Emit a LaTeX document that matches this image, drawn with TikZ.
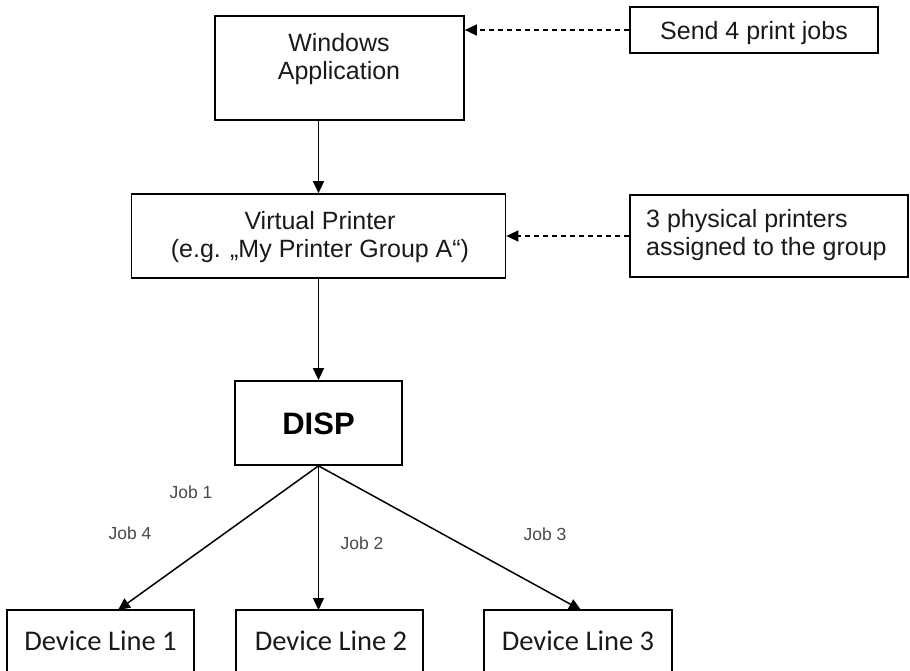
\documentclass[tikz,border=0pt]{standalone}
\usepackage{fontspec}
\setmainfont{Liberation Sans}
\newfontfamily\calibri{Carlito}
\usetikzlibrary{arrows.meta}
\definecolor{txt}{HTML}{1A1A1A}
\definecolor{jobc}{HTML}{4A4A4A}
\tikzset{
  box/.style={draw=black, line width=1.7pt, inner sep=0pt, fill=white},
  lbl/.style={inner sep=0pt, text=txt, font=\fontsize{25}{28.5}\selectfont, align=center},
  devlbl/.style={inner sep=0pt, text=txt, font=\calibri\fontsize{28.5}{32}\selectfont},
  joblbl/.style={inner sep=0pt, text=jobc, font=\fontsize{17.5}{20}\selectfont},
  arr/.style={line width=1.5pt, -{Triangle[length=12pt,width=11pt]}},
  darr/.style={line width=1.5pt, dash pattern=on 5pt off 4pt, -{Triangle[length=12pt,width=11pt]}}
}
\begin{document}
\begin{tikzpicture}[x=1pt,y=-1pt]
\clip (0,0) rectangle (910,670);
\fill[white] (0,0) rectangle (910,670);
% boxes
\node[box, minimum width=249, minimum height=104] (win) at (339.5,68) {};
\node[box, minimum width=248, minimum height=46] (send) at (754,30) {};
\node[box, minimum width=374, minimum height=84] (vp) at (318.5,236) {};
\node[box, minimum width=278, minimum height=82] (phys) at (769,236) {};
\node[box, minimum width=167, minimum height=84] (disp) at (318.5,423) {};
\node[box, minimum width=187, minimum height=80] (dev1) at (100.5,650) {};
\node[box, minimum width=187, minimum height=80] (dev2) at (329.5,650) {};
\node[box, minimum width=188, minimum height=80] (dev3) at (578,650) {};
% labels
\node[lbl] (winl) at (339,59) {Windows\\Application};
\node[lbl] (sendl) at (754,33) {Send 4 print jobs};
\node[lbl] (vpl) at (320,237) {Virtual Printer\\(e.g. „My Printer Group A“)};
\node[lbl, align=left, anchor=west] (physl) at (646,235) {3 physical printers\\assigned to the group};
\node[inner sep=0pt, text=black, font=\bfseries\fontsize{31}{34}\selectfont] (displ) at (318.5,424) {DISP};
\node[devlbl] (dev1l) at (100.5,641) {Device Line 1};
\node[devlbl] (dev2l) at (331,641) {Device Line 2};
\node[devlbl] (dev3l) at (578,641) {Device Line 3};
\node[joblbl] (j1) at (191,492) {Job 1};
\node[joblbl] (j4) at (130,533) {Job 4};
\node[joblbl] (j2) at (362,543) {Job 2};
\node[joblbl] (j3) at (545,534) {Job 3};
% connectors
\coordinate (t1) at (118,610);
\coordinate (t2) at (318.5,610);
\coordinate (t3) at (581,610);
\draw[arr] (vp.north |- win.south) -- (vp.north);
\draw[arr] (vp.south) -- (disp.north);
\draw[darr] (send.west) -- (send.west -| win.east);
\draw[darr] (phys.west) -- (phys.west -| vp.east);
\draw[arr] (disp.south) -- (t1);
\draw[arr] (disp.south) -- (t2);
\draw[arr] (disp.south) -- (t3);
\end{tikzpicture}
\end{document}
